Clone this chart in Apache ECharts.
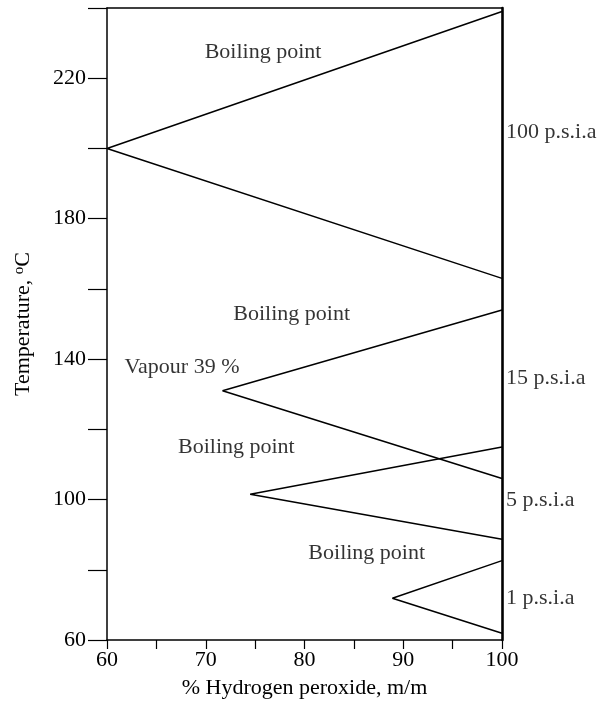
<!DOCTYPE html>
<html>
<head>
<meta charset="utf-8">
<script src="https://cdn.jsdelivr.net/npm/echarts@6/dist/echarts.min.js"></script>
<style>
html,body{margin:0;padding:0;background:#fff;}
#chart{width:609px;height:708px;}
</style>
</head>
<body>
<div id="chart"></div>
<script>
// ---- Data ----
// Each pressure: [upper end at 100 %, apex, lower end at 100 %]
const pressureNames = ['100 p.s.i.a', '15 p.s.i.a', '5 p.s.i.a', '1 p.s.i.a'];
const p100X = [100, 60, 100];
const p100T = [239, 200, 163];
const p15X = [100, 71.7, 100];
const p15T = [154, 131, 106];
const p5X = [100, 74.5, 100];
const p5T = [115, 101.5, 88.7];
const p1X = [100, 88.9, 100];
const p1T = [82.6, 71.9, 61.9];

// Annotation texts and their anchors (data units)
const boilingText = 'Boiling point';
const boilingX = [75.8, 78.7, 73.1, 86.3];
const boilingT = [227.3, 152.7, 115, 84.6];
const pressureLabelT = [204.7, 134.7, 99.7, 71.9];
const vapourText = 'Vapour 39 %';
const vapourX = 67.6;
const vapourT = 137.6;

// Axis ticks
const xMin = 60, xMax = 100, xStep = 5, xLabelStep = 10;
const yMin = 60, yMax = 240, yStep = 20, yLabelStep = 40;

const FONT = 'Liberation Serif';
const chart = echarts.init(document.getElementById('chart'), null, {renderer: 'canvas'});

function zip(xs, ys) { return xs.map((x, i) => [x, ys[i]]); }
const tri = [zip(p100X, p100T), zip(p15X, p15T), zip(p5X, p5T), zip(p1X, p1T)];

const lineSeries = tri.map((d, i) => ({
  name: pressureNames[i],
  type: 'line',
  data: d,
  symbol: 'none',
  silent: true,
  lineStyle: {color: '#000', width: 1.5},
  clip: false,
  z: 3
}));

const centerLabels = boilingX.map((x, i) => ({name: boilingText, value: [x, boilingT[i]]}));
centerLabels.push({name: vapourText, value: [vapourX, vapourT]});
const rightLabels = pressureNames.map((n, i) => ({name: n, value: [xMax, pressureLabelT[i]]}));

const txt = {color: '#000', fontFamily: FONT, fontSize: 22};

const option = {
  animation: false,
  backgroundColor: '#fff',
  grid: {left: 107, right: 107, top: 8, bottom: 68, show: false},
  xAxis: [{
    type: 'value', min: xMin, max: xMax, interval: xStep, position: 'bottom',
    axisLine: {onZero: false, lineStyle: {color: '#000', width: 1.5}},
    axisTick: {length: 9, lineStyle: {color: '#000', width: 1.2}},
    axisLabel: Object.assign({margin: 9, formatter: v => (v % xLabelStep === 0 ? String(v) : '')}, txt),
    splitLine: {show: false},
    name: '% Hydrogen peroxide, m/m', nameLocation: 'middle', nameGap: 37,
    nameTextStyle: txt
  }, {
    type: 'value', min: xMin, max: xMax, position: 'top',
    axisLine: {onZero: false, lineStyle: {color: '#000', width: 1.5}},
    axisTick: {show: false}, axisLabel: {show: false}, splitLine: {show: false}
  }],
  yAxis: [{
    type: 'value', min: yMin, max: yMax, interval: yStep, position: 'left',
    axisLine: {onZero: false, lineStyle: {color: '#000', width: 1.5}},
    axisTick: {length: 19, lineStyle: {color: '#000', width: 1.2}},
    axisLabel: Object.assign({margin: 21, formatter: v => ((v - yMin) % yLabelStep === 0 && v < yMax ? String(v) : '')}, txt),
    splitLine: {show: false},
    name: '{a|Temperature, }{s|o}{a|C}', nameLocation: 'middle', nameGap: 73, nameRotate: 90,
    nameTextStyle: {
      color: '#000', fontFamily: FONT, fontSize: 22,
      rich: {
        a: {color: '#000', fontFamily: FONT, fontSize: 22},
        s: {color: '#000', fontFamily: FONT, fontSize: 15, verticalAlign: 'top', padding: [0, 0, 6, 0]}
      }
    }
  }, {
    type: 'value', min: yMin, max: yMax, position: 'right',
    axisLine: {onZero: false, lineStyle: {color: '#000', width: 2.6}},
    axisTick: {show: false}, axisLabel: {show: false}, splitLine: {show: false}
  }],
  series: lineSeries.concat([{
    type: 'scatter', name: 'labels', data: centerLabels, symbolSize: 0, silent: true, clip: false,
    label: Object.assign({show: true, position: 'inside', formatter: p => p.name}, txt)
  }, {
    type: 'scatter', name: 'pressures', data: rightLabels, symbolSize: 0, silent: true, clip: false,
    label: Object.assign({show: true, position: 'right', distance: 4, formatter: p => p.name}, txt)
  }])
};
chart.setOption(option);
</script>
</body>
</html>
